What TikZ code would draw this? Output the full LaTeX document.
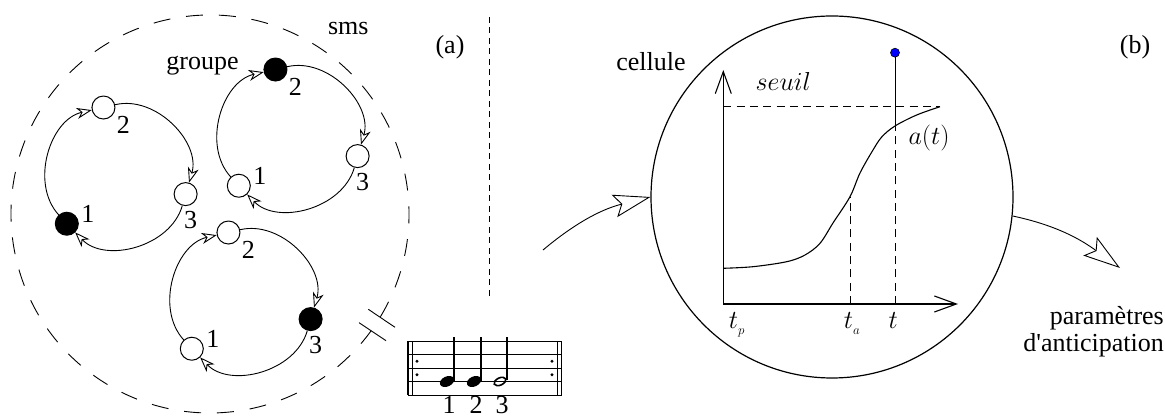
\documentclass[tikz,border=0pt]{standalone}
\usepackage{fix-cm}
\usepackage[no-math]{fontspec}
\setmainfont{Liberation Serif}
\usetikzlibrary{arrows.meta}
\begin{document}
\begin{tikzpicture}[x=1pt,y=1pt,
  every node/.style={font=\rmfamily\fontsize{26}{30}\selectfont, inner sep=0pt},
  ringnode/.style={circle, draw, line width=1pt, minimum size=23pt, fill=white},
  filled/.style={fill=black},
  ringarc/.style={line width=0.9pt, -{Stealth[open, fill=white, length=15pt, width=11pt, inset=4.5pt]}, bend left=60, looseness=1.0},
  bigarrow/.style={line width=0.9pt, -{Stealth[open, fill=white, length=37pt, width=23pt, inset=7pt]}},
  axis/.style={line width=1.1pt, -{Straight Barb[length=22pt,width=16pt]}},
  fdash/.style={line width=0.9pt, dash pattern=on 8pt off 5.3pt},
  thin line/.style={line width=0.9pt},
]
\useasboundingbox (0,0) rectangle (1165,419);

% ---------- (a) ----------
\coordinate (smsc) at (210,205);
\draw[thin line, dash pattern=on 17pt off 15.9pt] ([shift={(-31.1:199)}]smsc) arc[start angle=-31.1, end angle=324.1, radius=199];
\draw[thin line] (368.3,109.7) -- (395,91.7);
\draw[thin line] (359,96.3) -- (386,78.3);

% ring A
\begin{scope}[shift={(118,243)}]
  \node[ringnode, filled] (a1) at (223:70) {};
  \node[ringnode] (a2) at (102:70) {};
  \node[ringnode] (a3) at (-15:70) {};
\end{scope}
% ring B
\begin{scope}[shift={(290,281)}]
  \node[ringnode] (b1) at (223:70) {};
  \node[ringnode, filled] (b2) at (102:70) {};
  \node[ringnode] (b3) at (-15:70) {};
\end{scope}
% ring C
\begin{scope}[shift={(243,118)}]
  \node[ringnode] (c1) at (223:70) {};
  \node[ringnode] (c2) at (102:70) {};
  \node[ringnode, filled] (c3) at (-15:70) {};
\end{scope}
\foreach \r in {a,b,c} {
  \draw[ringarc] (\r1) to (\r2);
  \draw[ringarc] (\r2) to (\r3);
  \draw[ringarc] (\r3) to (\r1);
  \node (\r1l) at ([shift={(21,10)}]\r1) {1};
  \node (\r2l) at ([shift={(20,-17.5)}]\r2) {2};
  \node (\r3l) at ([shift={(5,-26)}]\r3) {3};
}

\node[anchor=base] (sms) at (348.3,384) {sms};
\node[anchor=base] (la) at (450,365.7) {(a)};
\node[anchor=base] (grp) at (202.5,349) {groupe};

% separator
\draw[thin line, dash pattern=on 6pt off 4.5pt] (489,402) -- (489,121);

% staff
\foreach \yy in {78,64.5,51,37.5,24} \draw[thin line] (408,\yy) -- (561.5,\yy);
\draw[line width=1.2pt] (408,24) -- (408,78);
\draw[thin line] (412.5,24) -- (412.5,78);
\draw[thin line] (557,24) -- (557,78);
\draw[line width=1.2pt] (561.5,24) -- (561.5,78);
\foreach \dx in {417,552} {
  \fill (\dx,57.75) circle[radius=1.6];
  \fill (\dx,44.25) circle[radius=1.6];
}
\foreach \hx/\sx in {447/454, 474/481} {
  \fill[rotate around={25:(\hx,37.5)}] (\hx,37.5) ellipse[x radius=7.5, y radius=5];
  \draw[line width=1.2pt] (\sx,38) -- (\sx,82);
}
\draw[line width=1.6pt, rotate around={25:(500,37.5)}] (500,37.5) ellipse[x radius=6.3, y radius=3.6];
\draw[line width=1.2pt] (507,39) -- (507,82);
\node[anchor=base] (n1) at (449,5.5) {1};
\node[anchor=base] (n2) at (476,5.5) {2};
\node[anchor=base] (n3) at (502,5.5) {3};

% ---------- (b) ----------
\node[circle, draw, line width=1.2pt, minimum size=362pt] (cell) at (832,222) {};
\coordinate (o) at (723.3,115);
\coordinate (ytip) at (723.3,349);
\coordinate (xtip) at (958,115);
\draw[axis] (o) -- (ytip);
\draw[axis] (o) -- (xtip);
\coordinate (s0) at (723.3,312.3);
\coordinate (s1) at (940,312.3);
\draw[fdash] (s0) -- (s1);
\draw[line width=1.1pt] plot[smooth, tension=0.55] coordinates {(723.3,150.7) (753,152.3) (786.7,157.3) (805,164) (820,175.7) (833,196) (850,222.3) (860,246) (873,269) (882,282.3) (895,293) (916.7,304) (940,312.3)};
\coordinate (taB) at (850,115);
\coordinate (taT) at (850,222.3);
\draw[fdash] (taB) -- (taT);
\coordinate (tB) at (895,115);
\coordinate (tC) at (895,293);
\draw[fdash] (tB) -- (tC);
\node[circle, draw, fill=blue, minimum size=9pt, line width=0.6pt] (dot) at (895,366.3) {};
\draw[thin line] (tC) -- (dot);

\coordinate (inS) at (543,169);
\draw[bigarrow] (inS) to[out=40, in=194] (cell.west);
\coordinate (outE) at (1120,151);
\draw[bigarrow] (cell.-6) to[out=-12, in=144] (outE);

\node[anchor=base] (cel) at (651,348) {cellule};
\node[anchor=base] (lb) at (1135,365.7) {(b)};
\node[anchor=base] (seuil) at (783.3,328.3) {$seuil$};
\node[anchor=base] (at) at (929,274) {$a(t)$};
\node[anchor=base west] (tp) at (728.6,90.7) {$t_{_p}$};
\node[anchor=base west] (ta) at (843.6,90.7) {$t_{_a}$};
\node[anchor=base] (tt) at (893.3,90.7) {$t$};
\node[anchor=base east] (p1) at (1164,94) {paramètres};
\node[anchor=base east] (p2) at (1164,67.3) {d\textquotesingle anticipation};
\end{tikzpicture}
\end{document}
